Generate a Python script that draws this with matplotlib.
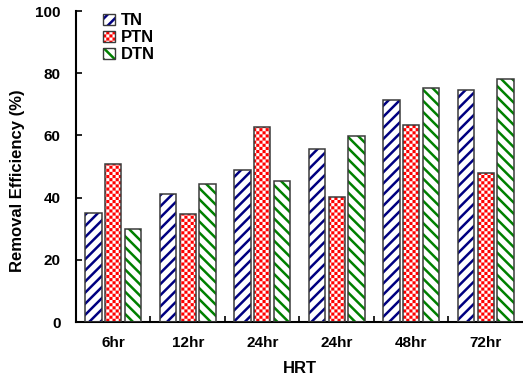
import warnings

import matplotlib

matplotlib.use("Agg")

import matplotlib.hatch as mhatch
import matplotlib.pyplot as plt
import numpy as np
from matplotlib.legend_handler import HandlerTuple
from matplotlib.patches import Patch, Rectangle
from matplotlib.path import Path


OUTPUT_FILE = "out.png"

CATEGORIES = ["6hr", "12hr", "24hr", "24hr", "48hr", "72hr"]
SERIES_NAMES = ["TN", "PTN", "DTN"]

TN_VALUES = [35.0, 41.3, 48.8, 55.7, 71.3, 74.7]
PTN_VALUES = [50.8, 34.6, 62.6, 40.2, 63.5, 48.0]
DTN_VALUES = [30.0, 44.3, 45.4, 59.7, 75.2, 78.0]

Y_TICKS = [0, 20, 40, 60, 80, 100]

SERIES_COLORS = ["#000080", "#ff0000", "#008000"]
SERIES_HATCHES = ["///", "########", "\\\\\\"]

STRIPE_WIDTH = 1.8

warnings.filterwarnings("ignore", message=".*hatch must consist.*")


class CheckerHatch(mhatch.HatchPatternBase):
    """Filled checkerboard squares, selected with the '#' hatch character."""

    filled = True

    def __init__(self, hatch, density):
        # four cells per inch for each '#'
        self.num_cells = hatch.count("#") * 4
        self.num_vertices = (self.num_cells ** 2 + 1) // 2 * 5

    def set_vertices_and_codes(self, vertices, codes):
        size = 1.0 / self.num_cells
        unit = np.array(
            [[0, 0], [1, 0], [1, 1], [0, 1], [0, 0]], dtype=float
        ) * size
        square_codes = [
            Path.MOVETO, Path.LINETO, Path.LINETO, Path.LINETO, Path.CLOSEPOLY
        ]
        cursor = 0
        for i in range(self.num_cells):
            for j in range(self.num_cells):
                if (i + j) % 2:
                    continue
                vertices[cursor:cursor + 5] = unit + (i * size, j * size)
                codes[cursor:cursor + 5] = square_codes
                cursor += 5


mhatch._hatch_types.append(CheckerHatch)


def style_hatch(patch):
    hatch = patch.get_hatch()
    if hatch and hasattr(patch, "set_hatch_linewidth"):
        patch.set_hatch_linewidth(0.0 if "#" in hatch else STRIPE_WIDTH)


def fill_colors(color, hatch):
    if "#" in hatch:
        return color, "white"
    return "white", color


def main() -> None:
    plt.rcParams["font.family"] = ["Liberation Sans", "DejaVu Sans"]
    plt.rcParams["font.weight"] = "bold"
    plt.rcParams["hatch.linewidth"] = STRIPE_WIDTH

    series = [TN_VALUES, PTN_VALUES, DTN_VALUES]

    figure = plt.figure(figsize=(5.23, 3.80), dpi=100)
    axis = figure.add_axes([0.1453, 0.1526, 0.8547, 0.8184])

    centers = np.arange(len(CATEGORIES)) + 0.5
    offsets = [-0.265, 0.0, 0.265]
    bar_width = 0.22

    for values, color, hatch, offset in zip(
        series, SERIES_COLORS, SERIES_HATCHES, offsets
    ):
        face, hatch_color = fill_colors(color, hatch)

        bars = axis.bar(
            centers + offset,
            values,
            width=bar_width,
            facecolor=face,
            edgecolor=hatch_color,
            linewidth=0,
            hatch=hatch,
            zorder=2,
        )
        for bar in bars:
            style_hatch(bar)

        axis.bar(
            centers + offset,
            values,
            width=bar_width,
            fill=False,
            edgecolor="#3a3a3a",
            linewidth=1.1,
            zorder=3,
        )

    axis.set_xlim(0, len(CATEGORIES))
    axis.set_ylim(0, 100)
    axis.set_yticks(Y_TICKS)

    axis.set_xticks(centers)
    axis.set_xticklabels(CATEGORIES)
    axis.set_xticks(np.arange(1, len(CATEGORIES)), minor=True)

    axis.tick_params(axis="x", which="major", length=0, pad=10, labelsize=11)
    axis.tick_params(axis="x", which="minor", direction="in", length=4, width=1.2)
    axis.tick_params(axis="y", direction="in", length=4, width=1.2, pad=11,
                     labelsize=11)

    for side in ["top", "right"]:
        axis.spines[side].set_visible(False)
    for side in ["left", "bottom"]:
        axis.spines[side].set_linewidth(1.5)

    axis.set_xlabel("HRT", fontsize=12, fontweight="bold", labelpad=8)
    axis.set_ylabel("Removal Efficiency (%)", fontsize=12, fontweight="bold")
    axis.yaxis.set_label_coords(-0.115, 0.455)

    handles = []
    for color, hatch in zip(SERIES_COLORS, SERIES_HATCHES):
        face, hatch_color = fill_colors(color, hatch)
        fill_patch = Patch(facecolor=face, edgecolor=hatch_color,
                           linewidth=0, hatch=hatch)
        outline_patch = Patch(fill=False, edgecolor="#3a3a3a", linewidth=1.0)
        handles.append((fill_patch, outline_patch))

    legend = axis.legend(
        handles,
        SERIES_NAMES,
        handler_map={tuple: HandlerTuple(ndivide=1)},
        loc="upper left",
        bbox_to_anchor=(0.035, 1.03),
        frameon=False,
        fontsize=12,
        handlelength=0.7,
        handleheight=0.7,
        handletextpad=0.35,
        labelspacing=0.12,
        borderpad=0.2,
    )
    for patch in legend.findobj(Rectangle):
        style_hatch(patch)

    figure.savefig(OUTPUT_FILE, dpi=100)
    plt.close(figure)


if __name__ == "__main__":
    main()
